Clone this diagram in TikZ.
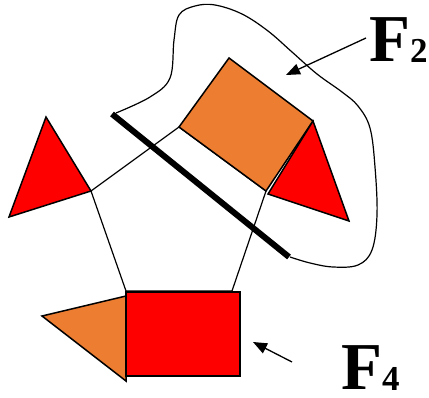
\documentclass[tikz,border=0pt]{standalone}
\usepackage{fontspec}
\setmainfont{Liberation Serif}
\usetikzlibrary{arrows.meta}
\definecolor{partorange}{RGB}{237,125,49}
\definecolor{partred}{RGB}{255,0,0}

\begin{document}
\begin{tikzpicture}[x=1pt, y=-1pt,
  piece/.style={draw=black, line width=1.5pt, line join=miter, fill=#1},
  side/.style={line width=1.2pt},
  cutline/.style={line width=6pt},
  fname/.style={font=\fontsize{67}{67}\selectfont\bfseries, inner sep=0pt,
                anchor=base west},
  pointer/.style={line width=1.3pt, -{Triangle[length=14pt,width=11pt]}}
]
  \useasboundingbox (0,0) rectangle (429,398);

  % pentagon corners
  \coordinate (ptop) at (179,127);
  \coordinate (pright) at (266,191);
  \coordinate (pbr) at (232,291);
  \coordinate (pbl) at (126,291);
  \coordinate (pleft) at (91,191);
  \draw[side] (ptop) -- (pright) -- (pbr) -- (pbl) -- (pleft) -- cycle;

  % upper square and the triangle beside it
  \draw[piece=partorange] (ptop) -- (229,58) -- (313,121) -- (pright) -- cycle;
  \draw[piece=partred] (313,121) -- (268,194) -- (349,221) -- cycle;

  % left triangle
  \draw[piece=partred] (46,117) -- (pleft) -- (9,217) -- cycle;

  % bottom block
  \draw[piece=partorange] (126,296) -- (42,316) -- (126,381) -- cycle;
  \draw[piece=partred] (126,292) rectangle (240,376);

  % cut and the region F2
  \coordinate (cutA) at (112,114);
  \coordinate (cutB) at (289,257);
  \draw[cutline] (cutA) -- (cutB);
  \draw[side] plot[smooth, tension=0.6] coordinates {
    (116,113) (150,97) (170,78) (174,40) (179,15) (195,6) (215,5)
    (242,14) (268,31) (292,52) (317,74) (342,92) (358,106) (370,128)
    (375,167) (377,215) (372,250) (358,265) (333,267) (310,263) (290,257)};

  % labels
  \node[fname] (f2) at (369,62) {F\raisebox{-1pt}{\fontsize{35}{35}\selectfont 2}};
  \node[fname] (f4) at (341,390) {F\raisebox{-1pt}{\fontsize{35}{35}\selectfont 4}};
  \coordinate (f2tail) at (366,38);
  \coordinate (f2head) at (286,75);
  \coordinate (f4tail) at (292,362);
  \coordinate (f4head) at (253,342);
  \draw[pointer] (f2tail) -- (f2head);
  \draw[pointer] (f4tail) -- (f4head);
\end{tikzpicture}
\end{document}
